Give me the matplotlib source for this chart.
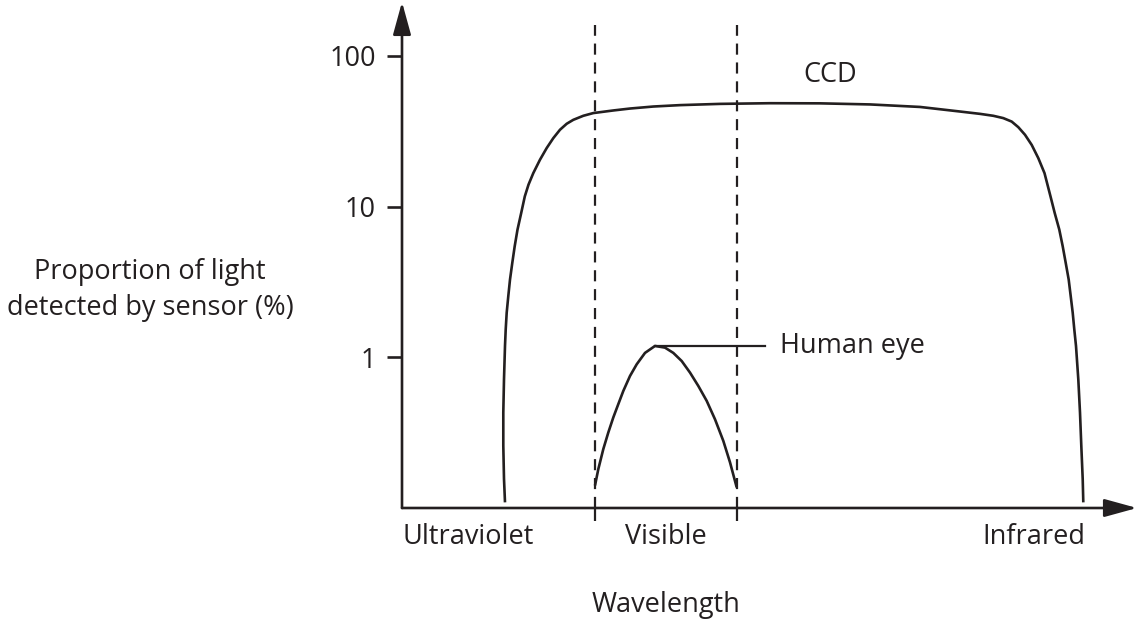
import matplotlib
matplotlib.use('Agg')
import matplotlib.pyplot as plt
import numpy as np

plt.rcParams['font.family'] = ['Open Sans', 'DejaVu Sans']

# wavelength position (arbitrary units, 0 = axis origin) and detected proportion (%)
ccd_x = [103, 102, 101.3, 101.3, 102, 103, 103.7, 104.7, 106.3, 108, 110.3, 112.7,
         115.5, 119.2, 122.8, 126.5, 131.3, 138, 144.7, 151.3, 158, 164.7, 171.3,
         181.3, 191.3, 211.3, 228, 251.3, 278, 318, 368, 418, 468, 518, 558, 578,
         591.3, 601.3, 609.7, 616.3, 623, 629.7, 636.3, 642.5, 648.5, 652.7, 657.3,
         660.7, 663.7, 666.7, 668.7, 670.7, 672.3, 674, 676.3, 678, 679.3, 680.7, 681.3]
ccd_y = [0.109, 0.156, 0.259, 0.430, 0.715, 1.19, 1.53, 1.98, 2.55, 3.28, 4.24, 5.46,
         7.04, 9.08, 11.7, 14.0, 16.7, 20.5, 24.5, 28.5, 32.4, 35.5, 37.7,
         40.1, 41.8, 43.5, 44.8, 46.2, 47.2, 48.1, 48.6, 48.5, 47.7, 45.9, 42.8, 41.3,
         40.1, 38.7, 36.7, 33.7, 30.0, 25.7, 21.0, 16.7, 11.7, 9.08, 7.04,
         5.46, 4.24, 3.28, 2.55, 1.98, 1.53, 1.19, 0.715, 0.430, 0.259, 0.156, 0.109]
eye_x = [193, 196.3, 201.3, 206.3, 211.3, 216.3, 221.3, 228, 234.7, 243, 253, 263,
         271.3, 279.7, 288, 296.3, 304.7, 313, 321.3, 328, 334.7]
eye_y = [0.141, 0.181, 0.246, 0.317, 0.399, 0.489, 0.598, 0.752, 0.899, 1.07, 1.19,
         1.16, 1.07, 0.945, 0.792, 0.646, 0.514, 0.388, 0.279, 0.201, 0.137]

visible_edges = [193, 335]
ytick_vals = [1, 10, 100]
ytick_labels = ['1', '10', '100']
regions = ['Ultraviolet', 'Visible', 'Infrared']
region_x = [66, 264, 632]

fig = plt.figure(figsize=(11.37, 6.24), dpi=100)
ax = fig.add_axes([402 / 1137, (624 - 508) / 624, 735 / 1137, 503 / 624])
ax.set_xlim(0, 735)
ax.set_yscale('log')
ax.set_ylim(0.1, 218)
for s in ax.spines.values():
    s.set_visible(False)

col = '#231f20'
fs = 19.5
ax.plot(ccd_x, ccd_y, color=col, lw=1.9, solid_capstyle='butt', solid_joinstyle='round')
ax.plot(eye_x, eye_y, color=col, lw=1.9, solid_capstyle='butt', solid_joinstyle='round')

for xv in visible_edges:
    ax.plot([xv, xv], [0.1, 160], color=col, lw=1.6, dashes=(5, 3.5))

# axes with arrow heads
arrow = dict(arrowstyle='-|>,head_length=2.0,head_width=0.55', mutation_scale=10,
             color=col, lw=1.9, shrinkA=0, shrinkB=0)
ax.annotate('', xy=(1, 0), xytext=(0, 0), xycoords='axes fraction', arrowprops=arrow)
ax.annotate('', xy=(0, 1.006), xytext=(0, 0), xycoords='axes fraction', arrowprops=arrow)

ax.minorticks_off()
ax.set_yticks(ytick_vals, ytick_labels)
ax.set_xticks(visible_edges, ['', ''])
ax.tick_params(axis='y', direction='out', length=11, width=1.9, color=col,
               labelsize=fs, labelcolor=col, pad=8)
ax.tick_params(axis='x', direction='out', length=9, width=1.6, color=col)

for name, xv in zip(regions, region_x):
    ax.annotate(name, xy=(xv, 0), xycoords=('data', 'axes fraction'),
                xytext=(0, -21), textcoords='offset points',
                ha='center', va='center', fontsize=fs, color=col)

ax.annotate('Wavelength', xy=(264, 0), xycoords=('data', 'axes fraction'),
            xytext=(0, -70), textcoords='offset points',
            ha='center', va='center', fontsize=fs, color=col)

fig.text(150 / 1137, 1 - 290 / 624, 'Proportion of light\ndetected by sensor (%)',
         ha='center', va='center', fontsize=fs, color=col, linespacing=1.42)

ax.text(428, 75, 'CCD', ha='center', va='center', fontsize=fs, color=col)

peak = int(np.argmax(eye_y))
ax.plot([eye_x[peak], 363], [eye_y[peak], eye_y[peak]], color=col, lw=1.6)
ax.text(378, eye_y[peak], 'Human eye', ha='left', va='center', fontsize=fs, color=col)

fig.savefig('out.png', dpi=100)
